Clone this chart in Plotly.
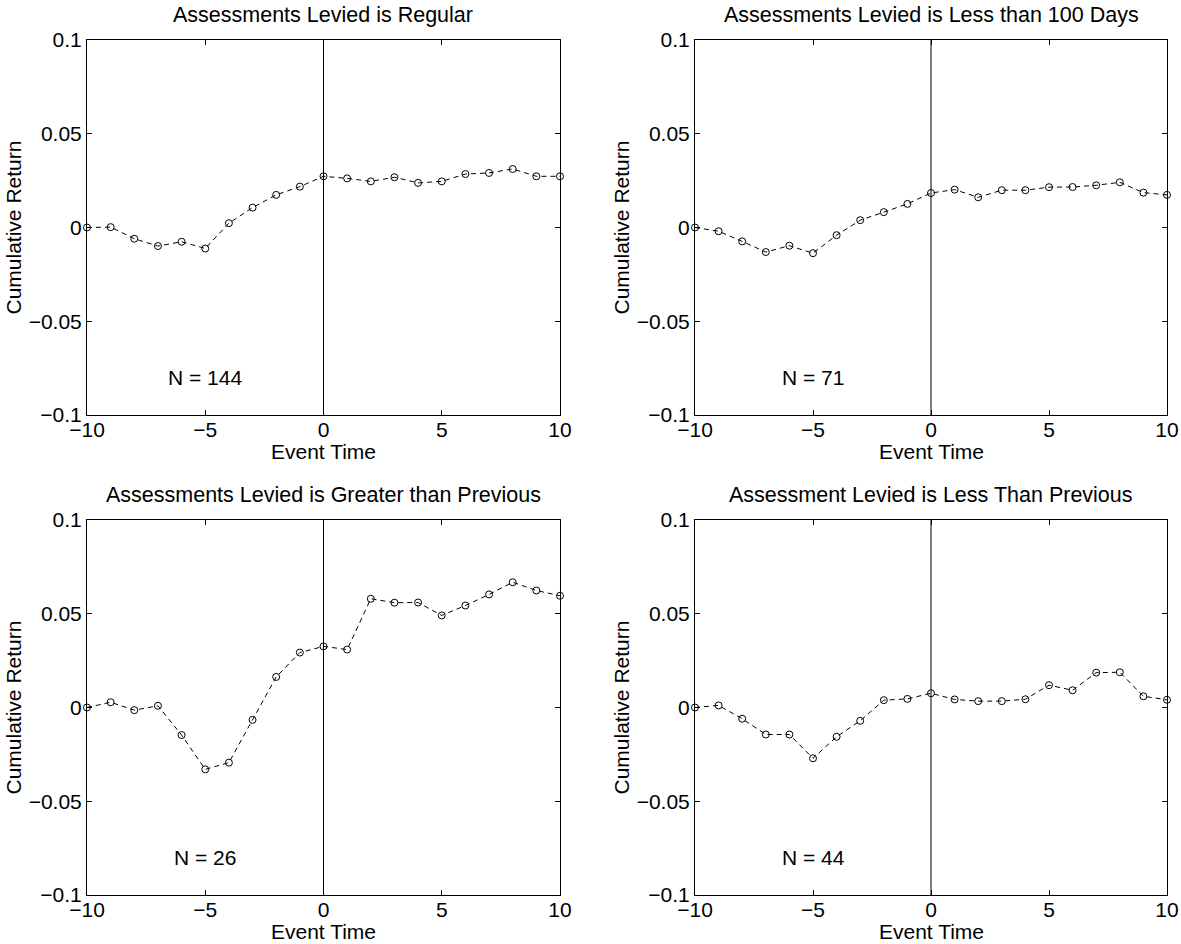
import plotly.graph_objects as go

event_time = list(range(-10, 11))

titles = [
    "Assessments Levied is Regular",
    "Assessments Levied is Less than 100 Days",
    "Assessments Levied is Greater than Previous",
    "Assessment Levied is Less Than Previous",
]
n_labels = ["N = 144", "N = 71", "N = 26", "N = 44"]

regular = [0.0, 0.0002, -0.0060, -0.0099, -0.0076, -0.0112, 0.0023, 0.0106, 0.0174, 0.0218,
           0.0273, 0.0262, 0.0246, 0.0268, 0.0238, 0.0246, 0.0285, 0.0291, 0.0312, 0.0273, 0.0273]
less_100 = [0.0, -0.0020, -0.0074, -0.0131, -0.0097, -0.0137, -0.0041, 0.0039, 0.0082, 0.0126,
            0.0184, 0.0202, 0.0161, 0.0199, 0.0199, 0.0215, 0.0216, 0.0225, 0.0241, 0.0186, 0.0174]
greater_prev = [0.0, 0.0028, -0.0014, 0.0009, -0.0147, -0.0330, -0.0294, -0.0066, 0.0163, 0.0293,
                0.0326, 0.0309, 0.0580, 0.0559, 0.0560, 0.0491, 0.0544, 0.0603, 0.0668, 0.0624, 0.0596]
less_prev = [0.0, 0.0011, -0.0060, -0.0144, -0.0144, -0.0271, -0.0156, -0.0071, 0.0039, 0.0046,
             0.0076, 0.0043, 0.0034, 0.0034, 0.0044, 0.0119, 0.0092, 0.0186, 0.0188, 0.0060, 0.0041]

series = [regular, less_100, greater_prev, less_prev]

x_tickvals = [-10, -5, 0, 5, 10]
x_ticktext = ["\u221210", "\u22125", "0", "5", "10"]
y_tickvals = [-0.1, -0.05, 0, 0.05, 0.1]
y_ticktext = ["\u22120.1", "\u22120.05", "0", "0.05", "0.1"]

W, H = 1181, 944
# panel pixel boxes: (left, right, top, bottom)
boxes = [(87, 560, 40, 415), (695, 1167, 40, 415),
         (87, 560, 520, 895), (695, 1167, 520, 895)]

FONT = "Liberation Sans, Arial, Helvetica, sans-serif"
fig = go.Figure()
annotations = []
shapes = []
layout = {}

for i, (vals, box) in enumerate(zip(series, boxes)):
    l, r, t, b = box
    k = "" if i == 0 else str(i + 1)
    xa, ya = "x" + k, "y" + k
    fig.add_trace(go.Scatter(
        x=event_time, y=vals, xaxis=xa, yaxis=ya, mode="lines+markers",
        line=dict(color="black", width=1, dash="5px,4px"),
        marker=dict(symbol="circle-open", size=7, color="black", line=dict(width=1, color="black")),
        cliponaxis=False, showlegend=False, hoverinfo="x+y"))
    common = dict(showline=True, linecolor="black", linewidth=1, mirror="ticks",
                  ticks="inside", ticklen=5, tickwidth=1, tickcolor="black",
                  showgrid=False, zeroline=False, automargin=False,
                  tickfont=dict(family=FONT, size=21, color="black"))
    layout["xaxis" + k] = dict(common, domain=[l / W, r / W], range=[-10, 10],
                               tickvals=x_tickvals, ticktext=x_ticktext,
                               anchor=ya, ticklabelstandoff=-4)
    layout["yaxis" + k] = dict(common, domain=[1 - b / H, 1 - t / H], range=[-0.1, 0.1],
                               tickvals=y_tickvals, ticktext=y_ticktext,
                               anchor=xa, ticklabelstandoff=0)
    shapes.append(dict(type="line", xref=xa, yref=ya + " domain", x0=0, x1=0, y0=0, y1=1,
                       line=dict(color="black", width=1)))
    cx = (l + r) / 2
    annotations.append(dict(text=titles[i], xref="paper", yref="paper", x=cx / W, y=1 - (t - 25) / H,
                            xanchor="center", yanchor="middle", showarrow=False,
                            font=dict(family=FONT, size=21.5, color="black")))
    annotations.append(dict(text="Event Time", xref="paper", yref="paper", x=cx / W, y=1 - (b + 36) / H,
                            xanchor="center", yanchor="middle", showarrow=False,
                            font=dict(family=FONT, size=21, color="black")))
    annotations.append(dict(text="Cumulative Return", xref="paper", yref="paper", x=(l - 74) / W,
                            y=1 - ((t + b) / 2) / H, xanchor="center", yanchor="middle",
                            textangle=-90, showarrow=False,
                            font=dict(family=FONT, size=21, color="black")))
    annotations.append(dict(text=n_labels[i], xref=xa, yref=ya, x=-5, y=-0.08,
                            xanchor="center", yanchor="middle", showarrow=False,
                            font=dict(family=FONT, size=21, color="black")))

fig.update_layout(**layout)
fig.update_layout(width=W, height=H, margin=dict(l=0, r=0, t=0, b=0, autoexpand=False),
                  paper_bgcolor="white", plot_bgcolor="white",
                  annotations=annotations, shapes=shapes,
                  font=dict(family=FONT, size=21, color="black"))
fig.write_html("out.html")
